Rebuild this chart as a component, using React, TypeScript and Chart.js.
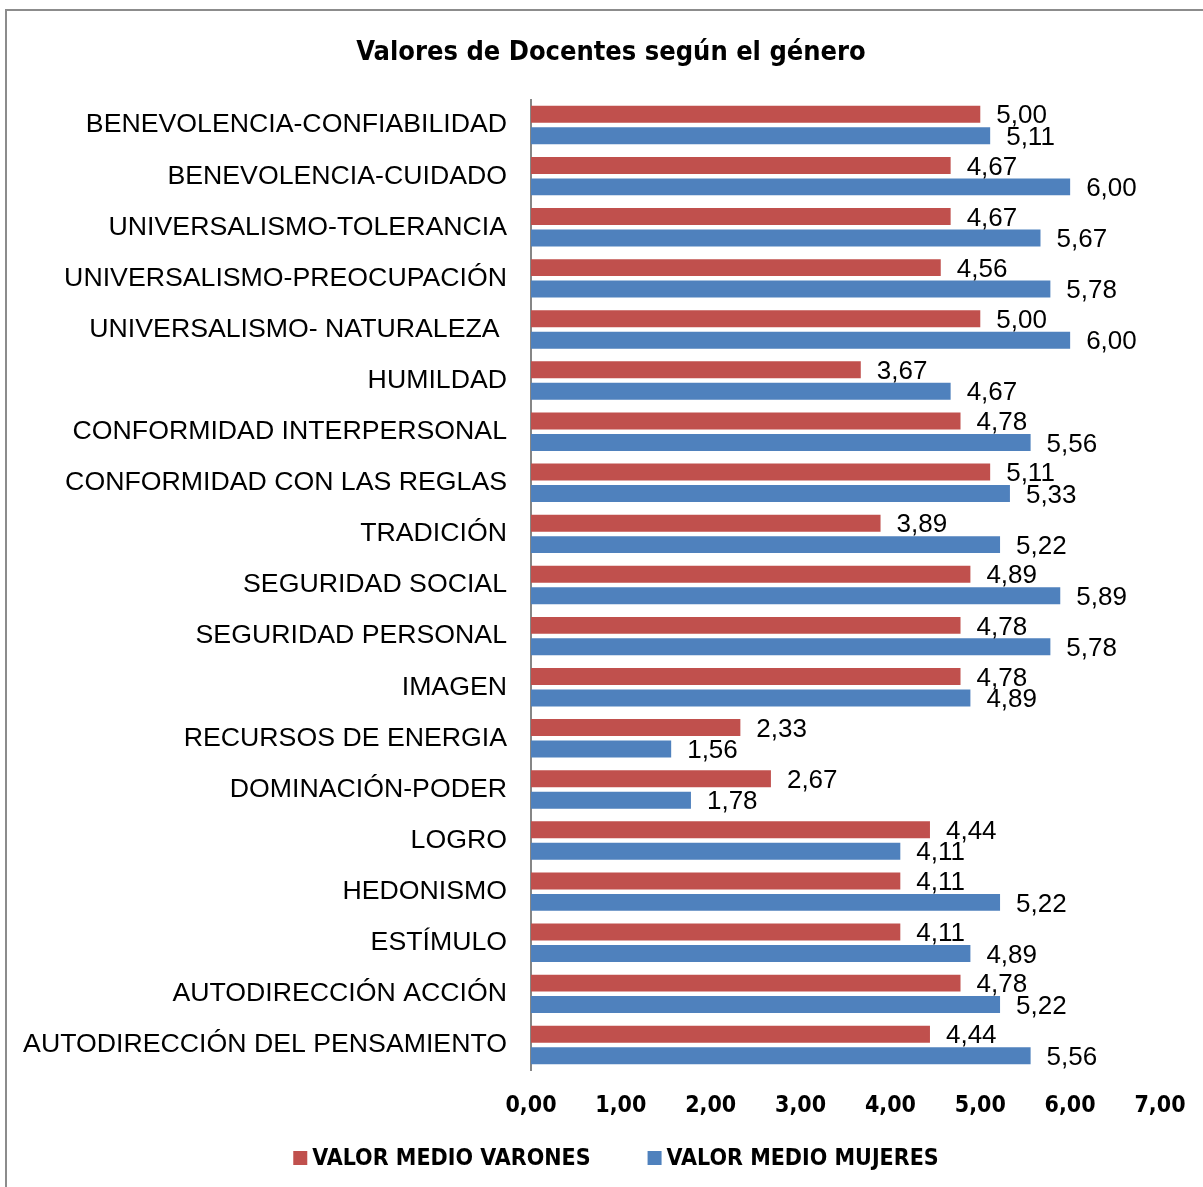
import React, { useEffect, useRef } from 'react';
import { Chart, registerables } from 'chart.js';

Chart.register(...registerables);

const categories = [
  'BENEVOLENCIA-CONFIABILIDAD',
  'BENEVOLENCIA-CUIDADO',
  'UNIVERSALISMO-TOLERANCIA',
  'UNIVERSALISMO-PREOCUPACIÓN',
  'UNIVERSALISMO- NATURALEZA ',
  'HUMILDAD',
  'CONFORMIDAD INTERPERSONAL',
  'CONFORMIDAD CON LAS REGLAS',
  'TRADICIÓN',
  'SEGURIDAD SOCIAL',
  'SEGURIDAD PERSONAL',
  'IMAGEN',
  'RECURSOS DE ENERGIA',
  'DOMINACIÓN-PODER',
  'LOGRO',
  'HEDONISMO',
  'ESTÍMULO',
  'AUTODIRECCIÓN ACCIÓN',
  'AUTODIRECCIÓN DEL PENSAMIENTO',
];

const varones = [5.0, 4.67, 4.67, 4.56, 5.0, 3.67, 4.78, 5.11, 3.89, 4.89, 4.78, 4.78, 2.33, 2.67, 4.44, 4.11, 4.11, 4.78, 4.44];
const mujeres = [5.11, 6.0, 5.67, 5.78, 6.0, 4.67, 5.56, 5.33, 5.22, 5.89, 5.78, 4.89, 1.56, 1.78, 4.11, 5.22, 4.89, 5.22, 5.56];

const tickLabels = ['0,00', '1,00', '2,00', '3,00', '4,00', '5,00', '6,00', '7,00'];
const seriesNames = ['VALOR MEDIO VARONES', 'VALOR MEDIO MUJERES'];
const seriesColors = ['#C0504D', '#4F81BD'];
const titleText = 'Valores de Docentes según el género';

const NARROW = "'DejaVu Sans Condensed', 'Liberation Sans', sans-serif";
const SANS = "'Liberation Sans', Arial, sans-serif";

const dataLabelPlugin = {
  id: 'dataLabels',
  afterDatasetsDraw(chart: any) {
    const ctx = chart.ctx;
    ctx.save();
    ctx.font = `26px ${SANS}`;
    ctx.fillStyle = '#000';
    ctx.textAlign = 'left';
    ctx.textBaseline = 'middle';
    chart.data.datasets.forEach((ds: any, i: number) => {
      const meta = chart.getDatasetMeta(i);
      meta.data.forEach((bar: any, j: number) => {
        const v = ds.data[j] as number;
        ctx.fillText(v.toFixed(2).replace('.', ','), bar.x + 16, bar.y + 2);
      });
    });
    ctx.restore();
  },
};

const titleLegendPlugin = {
  id: 'titleLegend',
  afterDraw(chart: any) {
    const ctx = chart.ctx;
    ctx.save();
    // title
    ctx.font = `bold 27px ${NARROW}`;
    ctx.fillStyle = '#000';
    ctx.textAlign = 'center';
    ctx.textBaseline = 'alphabetic';
    ctx.fillText(titleText, 611, 60);
    // legend
    ctx.font = `bold 23px ${NARROW}`;
    ctx.textBaseline = 'middle';
    ctx.textAlign = 'left';
    const box = 14;
    const gapBoxText = 5;
    const gapItems = 57;
    const widths = chart.data.datasets.map((ds: any) => ctx.measureText(ds.label).width);
    const total = widths.reduce((a: number, w: number) => a + box + gapBoxText + w, 0) + gapItems * (widths.length - 1);
    const cx = 616;
    const cy = 1158;
    let x = cx - total / 2;
    chart.data.datasets.forEach((ds: any, i: number) => {
      ctx.fillStyle = ds.backgroundColor;
      ctx.fillRect(x, cy - box / 2, box, box);
      x += box + gapBoxText;
      ctx.fillStyle = '#000';
      ctx.fillText(ds.label, x, cy + 1);
      x += widths[i] + gapItems;
    });
    ctx.restore();
  },
};

const framePlugin = {
  id: 'frame',
  beforeDraw(chart: any) {
    const ctx = chart.ctx;
    ctx.save();
    ctx.fillStyle = '#fff';
    ctx.fillRect(0, 0, chart.width, chart.height);
    ctx.strokeStyle = '#8c8c8c';
    ctx.lineWidth = 2;
    ctx.strokeRect(6, 10, 1400, 1400);
    ctx.restore();
  },
};

export default function App() {
  const ref = useRef<HTMLCanvasElement | null>(null);

  useEffect(() => {
    if (!ref.current) return;
    const chart = new Chart(ref.current, {
      type: 'bar',
      data: {
        labels: categories,
        datasets: seriesNames.map((name, i) => ({
          label: name,
          data: i === 0 ? varones : mujeres,
          backgroundColor: seriesColors[i],
          categoryPercentage: 0.84,
          barPercentage: 0.79,
        })),
      },
      options: {
        indexAxis: 'y',
        responsive: false,
        animation: false,
        layout: { padding: { top: 99.5, right: 43, bottom: 0, left: 0 } },
        scales: {
          y: {
            grid: { display: false, drawTicks: false },
            border: { display: true, color: '#868686', width: 2 },
            ticks: {
              color: '#000',
              font: { size: 26.7, family: SANS },
              padding: 24,
              autoSkip: false,
            },
            afterFit(s: any) {
              s.width = 531;
              s.paddingTop = 0;
              s.paddingBottom = 0;
            },
          },
          x: {
            min: 0,
            max: 7,
            grid: { display: false, drawTicks: false },
            border: { display: false },
            ticks: {
              stepSize: 1,
              color: '#000',
              font: { size: 23, weight: 'bold', family: NARROW },
              padding: 22,
              callback: (_v: any, i: number) => tickLabels[i],
            },
            afterFit(s: any) {
              s.height = 116.5;
              s.paddingLeft = 0;
              s.paddingRight = 0;
            },
          },
        },
        plugins: {
          title: { display: false },
          legend: { display: false },
          tooltip: { enabled: false },
        },
      },
      plugins: [framePlugin, dataLabelPlugin, titleLegendPlugin],
    } as any);
    return () => chart.destroy();
  }, []);

  return (
    <div style={{ position: 'fixed', left: 0, top: 0, width: 1203, height: 1187 }}>
      <canvas ref={ref} width={1203} height={1187} />
    </div>
  );
}
